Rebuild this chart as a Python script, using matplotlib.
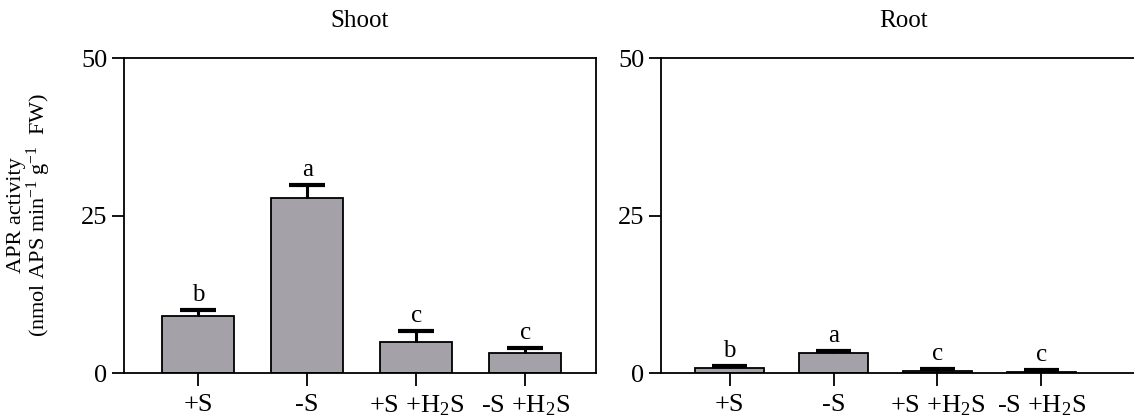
import matplotlib
matplotlib.use("Agg")
import matplotlib.pyplot as plt
import numpy as np

plt.rcParams['font.family'] = ['Liberation Serif', 'DejaVu Serif']
plt.rcParams['mathtext.fontset'] = 'custom'
plt.rcParams['mathtext.rm'] = 'Liberation Serif'
plt.rcParams['mathtext.it'] = 'Liberation Serif:italic'
plt.rcParams['mathtext.bf'] = 'Liberation Serif:bold'

# data
treatments = ["+S", "-S", r"+S +H$_2$S", r"-S +H$_2$S"]
shoot_mean = [9.0, 27.8, 4.9, 3.1]
shoot_err = [1.0, 2.0, 1.8, 0.9]
shoot_letters = ["b", "a", "c", "c"]
root_mean = [0.8, 3.1, 0.25, 0.2]
root_err = [0.3, 0.4, 0.35, 0.3]
root_letters = ["b", "a", "c", "c"]

bar_color = '#a5a1a8'
fs = 18

fig = plt.figure(figsize=(11.34, 4.19), dpi=100)
ax1 = fig.add_axes([124 / 1134, 1 - 373 / 419, (596 - 124) / 1134, (373 - 58) / 419])
ax2 = fig.add_axes([661 / 1134, 1 - 373 / 419, (1134 - 661) / 1134 + 0.01, (373 - 58) / 419])


def draw_panel(ax, means, errs, letters, title, xlim):
    x = np.arange(len(treatments))
    means = np.array(means)
    errs = np.array(errs)
    ax.bar(x, means, width=0.66, color=bar_color, edgecolor='black', linewidth=1.3, zorder=2)
    # upper error bars only
    ax.vlines(x, means, means + errs, color='black', linewidth=2.2, zorder=3)
    ax.hlines(means + errs, x - 0.165, x + 0.165, color='black', linewidth=3, zorder=3)
    for xi, m, e, l in zip(x, means, errs, letters):
        ax.annotate(l, (xi, m + e), xytext=(0, 3), textcoords='offset points',
                    ha='center', va='bottom', fontsize=fs)
    ax.set_xlim(*xlim)
    ax.set_ylim(0, 50)
    ax.set_yticks([0, 25, 50])
    ax.set_xticks(x)
    ax.set_xticklabels(treatments)
    ax.tick_params(axis='both', direction='out', length=9, width=1.3, labelsize=19, pad=3)
    ax.tick_params(axis='x', pad=6)
    for sp in ax.spines.values():
        sp.set_linewidth(1.3)
    ax.set_title(title, fontsize=fs, pad=22)


draw_panel(ax1, shoot_mean, shoot_err, shoot_letters, "Shoot", (-0.68, 3.65))
draw_panel(ax2, root_mean, root_err, root_letters, "Root", (-0.66, 4.0))

ax1.set_ylabel("APR activity\n(nmol APS min$^{-1}$ g$^{-1}$  FW)", fontsize=16, labelpad=20,
               linespacing=0.95)

fig.savefig("out.png", dpi=100)
